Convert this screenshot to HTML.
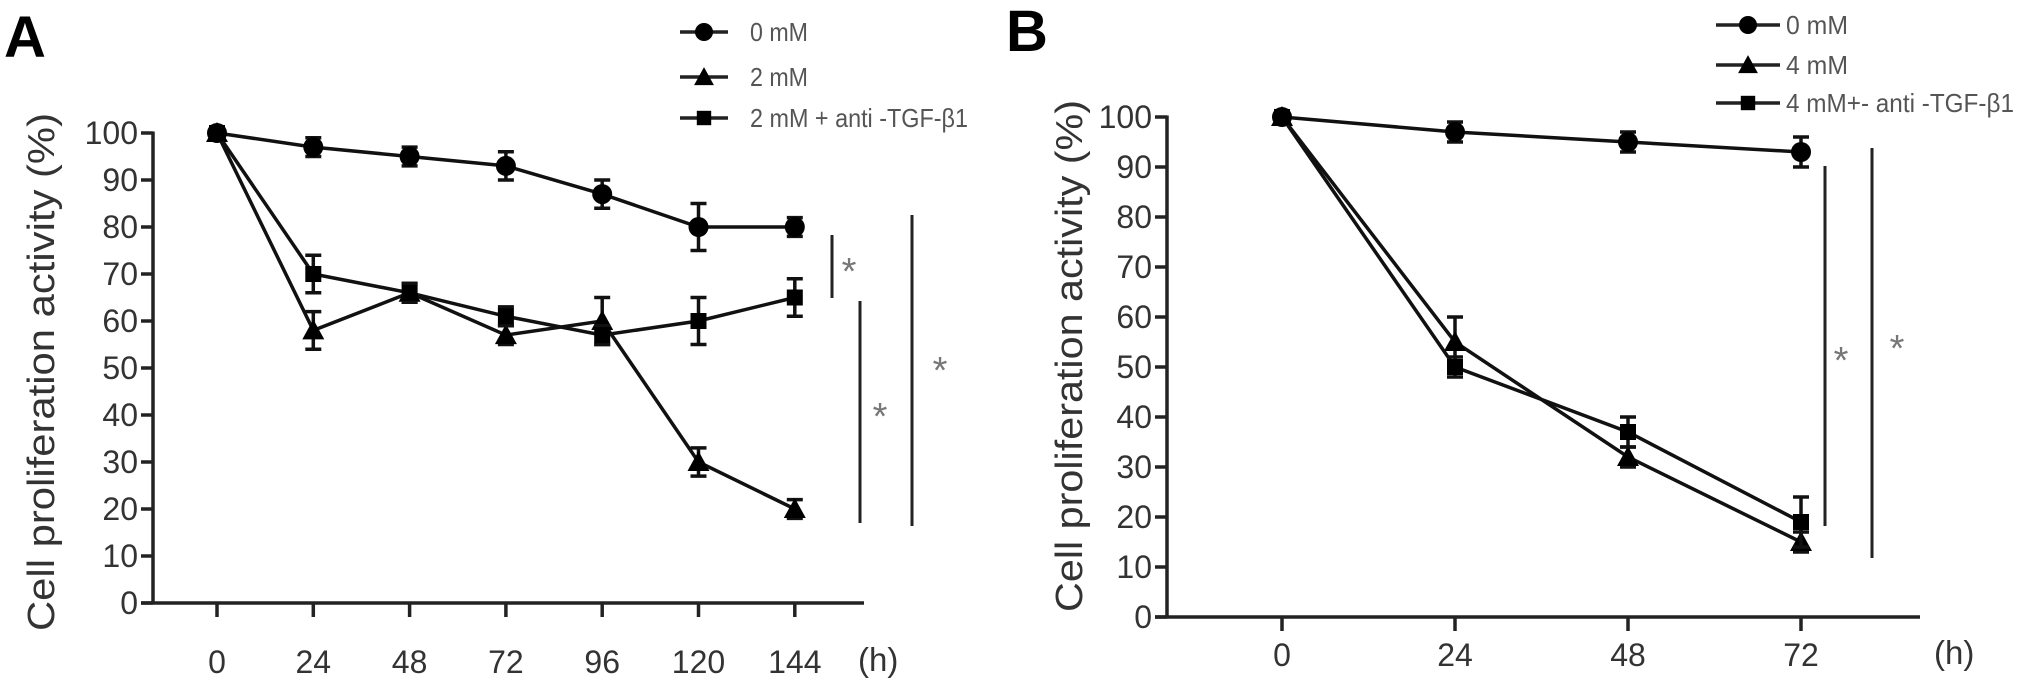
<!DOCTYPE html>
<html><head><meta charset="utf-8"><style>
html,body{margin:0;padding:0;background:#fff;}
svg{display:block;font-family:"Liberation Sans",Arial,sans-serif;}
</style></head><body>
<svg id="fig" width="2031" height="684" viewBox="0 0 2031 684">
<g id="A"></g>
<g id="B"></g>
</svg>
<script>
// ---------- Panel A data ----------
const catsA = [0, 24, 48, 72, 96, 120, 144];
const a0mM = [100, 97, 95, 93, 87, 80, 80];
const a0mMErr = [0, 2, 2, 3, 3, 5, 2];
const a2mM = [100, 58, 66, 57, 60, 30, 20];
const a2mMErr = [0, 4, 2, 2, 5, 3, 2];
const a2anti = [100, 70, 66, 61, 57, 60, 65];
const a2antiErr = [0, 4, 2, 2, 2, 5, 4];
const legendA = ["0 mM", "2 mM", "2 mM + anti -TGF-β1"];
// ---------- Panel B data ----------
const catsB = [0, 24, 48, 72];
const b0mM = [100, 97, 95, 93];
const b0mMErr = [0, 2, 2, 3];
const b4mM = [100, 55, 32, 15];
const b4mMErr = [0, 5, 2, 2];
const b4anti = [100, 50, 37, 19];
const b4antiErr = [0, 2, 3, 5];
const legendB = ["0 mM", "4 mM", "4 mM+- anti -TGF-β1"];
const yTicks = [0,10,20,30,40,50,60,70,80,90,100];

const NS = "http://www.w3.org/2000/svg";
function mk(parent, tag, attrs, text){
  const e = document.createElementNS(NS, tag);
  for (const k in attrs) e.setAttribute(k, attrs[k]);
  if (text !== undefined) e.textContent = text;
  parent.appendChild(e);
  return e;
}
function marker(g, shape, cx, cy, s){
  let m;
  if (shape === "circle") m = mk(g, "circle", {cx:cx, cy:cy, r:10*s, fill:"#000"});
  else if (shape === "tri") m = mk(g, "polygon", {points:`${cx},${cy-11*s} ${cx-11*s},${cy+9*s} ${cx+11*s},${cy+9*s}`, fill:"#000"});
  else m = mk(g, "rect", {x:cx-8*s, y:cy-8*s, width:16*s, height:16*s, fill:"#000"});
  return m;
}

function panel(g, o){
  const X = v => o.x0 + (v - o.cats[0]) * o.xs;
  const Y = v => o.y0 - v * o.ys;
  const L = mk(g, "text", {x:o.letterX, y:o.letterY, "font-size":58, "font-weight":"bold"}, o.letter);
  
  
  const ya = mk(g, "line", {x1:o.ax, y1:Y(100)-1.5, x2:o.ax, y2:o.y0+1.5, stroke:"#222", "stroke-width":3.5});
  
  
  const xa = mk(g, "line", {x1:o.ax-12, y1:o.y0, x2:o.xEnd, y2:o.y0, stroke:"#222", "stroke-width":3.5});
  
  
  yTicks.forEach(t => {
    mk(g, "line", {x1:o.ax-12, y1:Y(t), x2:o.ax, y2:Y(t), stroke:"#222", "stroke-width":3.5});
    const tl = mk(g, "text", {x:o.ax-15, y:Y(t)+11, "font-size":32, "text-anchor":"end", fill:"#333"}, t);
    
    
  });
  o.cats.forEach(c => {
    mk(g, "line", {x1:X(c), y1:o.y0, x2:X(c), y2:o.y0+14, stroke:"#222", "stroke-width":3.5});
    const tl = mk(g, "text", {x:X(c), y:o.xLabY, "font-size":32, "text-anchor":"middle", fill:"#333"}, c);
    
    
  });
  const h = mk(g, "text", {x:o.hX, y:o.xLabY-2, "font-size":33, fill:"#333"}, "(h)");
  
  
  const yt = mk(g, "text", {x:0, y:0, "font-size":38, "text-anchor":"middle", fill:"#333",
    transform:`translate(${o.titleX},${o.titleY}) rotate(-90)`, textLength:o.titleLen, lengthAdjust:"spacingAndGlyphs"}, "Cell proliferation activity (%)");
  
  
  o.series.forEach((s) => {
    const sg = mk(g, "g", {});
    
    
    const pts = s.vals.map((v,i) => `${X(o.cats[i])},${Y(v)}`).join(" ");
    mk(sg, "polyline", {points:pts, fill:"none", stroke:"#111", "stroke-width":3.5});
    s.vals.forEach((v,i) => {
      const e = s.err[i];
      if (e > 0) {
        const x = X(o.cats[i]);
        mk(sg, "line", {x1:x, y1:Y(v+e), x2:x, y2:Y(v-e), stroke:"#111", "stroke-width":3.5});
        mk(sg, "line", {x1:x-8, y1:Y(v+e), x2:x+8, y2:Y(v+e), stroke:"#111", "stroke-width":3.5});
        mk(sg, "line", {x1:x-8, y1:Y(v-e), x2:x+8, y2:Y(v-e), stroke:"#111", "stroke-width":3.5});
      }
      const m = marker(sg, s.shape, X(o.cats[i]), Y(v), 1);
      
      
    });
  });
  o.legend.forEach((lab, i) => {
    const lg = mk(g, "g", {});
    
    
    const y = o.legY[i];
    mk(lg, "line", {x1:o.legX1, y1:y, x2:o.legX2, y2:y, stroke:"#222", "stroke-width":3.5});
    marker(lg, o.series[i].shape, (o.legX1+o.legX2)/2, y, 0.9);
    const t = mk(lg, "text", {x:o.legTX, y:y+9, "font-size":26, fill:"#555"}, lab);
    if (o.legLen) { t.setAttribute("textLength", o.legLen[i]); t.setAttribute("lengthAdjust","spacingAndGlyphs"); }
  });
  o.sig.forEach(s => {
    const sgl = mk(g, "line", {x1:s.x, y1:s.y1, x2:s.x, y2:s.y2, stroke:"#222", "stroke-width":3});
    
    
    const st = mk(g, "text", {x:s.sx, y:s.sy+16, "font-size":38, "text-anchor":"middle", fill:"#777"}, "*");
    
    
  });
}

panel(document.getElementById("A"), {
  letter:"A", letterX:4, letterY:57, cats:catsA, x0:217, xs:96.3/24, y0:603, ys:4.7,
  ax:153, xEnd:864, xLabY:673, hX:858, titleX:54, titleY:372, titleLen:518,
  series:[{name:"0mM",shape:"circle",vals:a0mM,err:a0mMErr},
          {name:"2mM",shape:"tri",vals:a2mM,err:a2mMErr},
          {name:"2mM-anti-tgf",shape:"rect",vals:a2anti,err:a2antiErr}],
  legend:legendA, legX1:680, legX2:728, legTX:750, legY:[32,77,118], legLen:[58,58,218],
  sig:[{x:832,y1:235,y2:298,sx:849,sy:268},{x:860,y1:301,y2:523,sx:880,sy:413},{x:912,y1:215,y2:526,sx:940,sy:367}]
});
panel(document.getElementById("B"), {
  letter:"B", letterX:1006, letterY:51, cats:catsB, x0:1282, xs:173/24, y0:617, ys:5.0,
  ax:1167, xEnd:1920, xLabY:666, hX:1934, titleX:1082, titleY:356, titleLen:512,
  series:[{name:"0mM",shape:"circle",vals:b0mM,err:b0mMErr},
          {name:"4mM",shape:"tri",vals:b4mM,err:b4mMErr},
          {name:"4mM-anti-tgf",shape:"rect",vals:b4anti,err:b4antiErr}],
  legend:legendB, legX1:1716, legX2:1780, legTX:1786, legY:[25,65,103], legLen:[62,62,228],
  sig:[{x:1825,y1:166,y2:526,sx:1841,sy:357},{x:1872,y1:148,y2:558,sx:1897,sy:345}]
});
</script>
</body></html>
